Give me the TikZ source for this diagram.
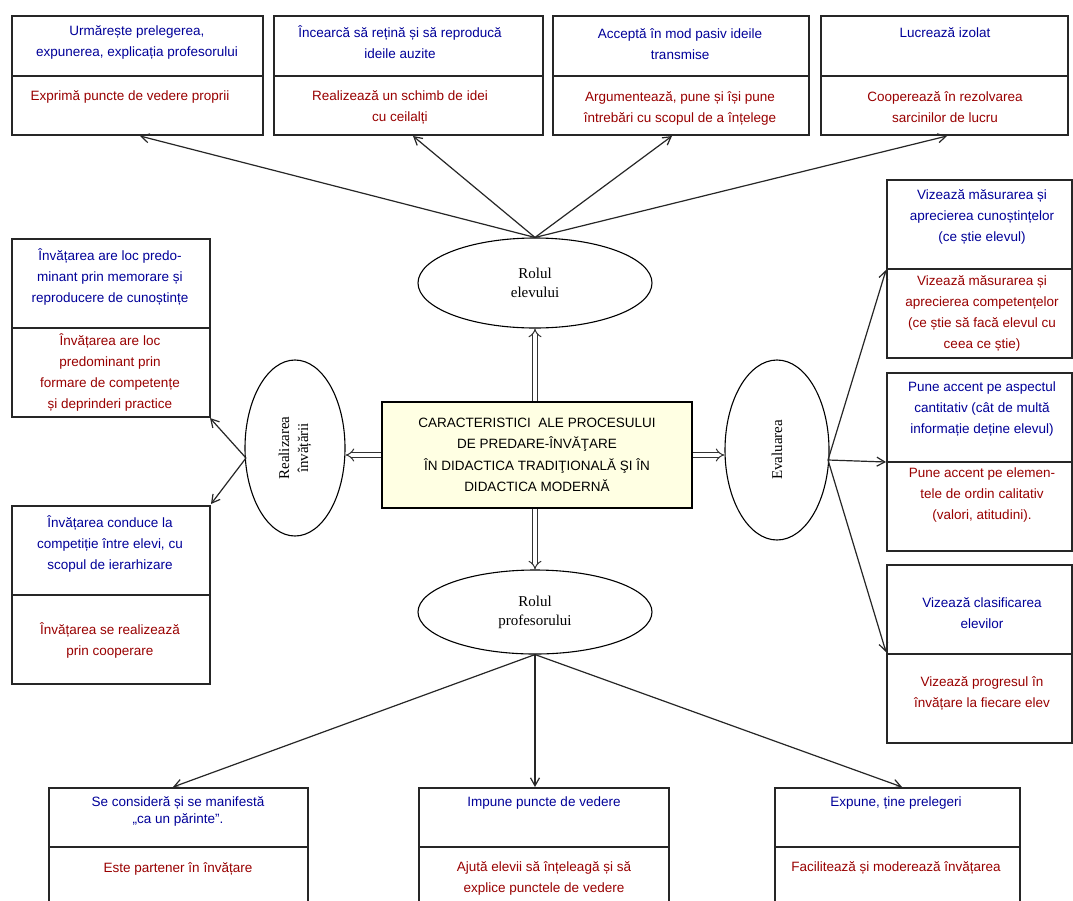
\documentclass[tikz,border=0pt]{standalone}
\usepackage{fontspec}
\setmainfont{Liberation Sans}
\newfontfamily\seriffont{Liberation Serif}
\usetikzlibrary{arrows.meta,shapes.geometric}
\definecolor{tblue}{HTML}{000099}
\definecolor{tred}{HTML}{990000}
\definecolor{cfill}{HTML}{FFFFE3}
\begin{document}
\begin{tikzpicture}[x=1pt,y=-1pt,
  box/.style={draw=black!85,line width=1.5pt},
  bt/.style={text=tblue,font=\fontsize{13.5}{21}\selectfont,align=center,inner sep=0pt},
  rt/.style={text=tred,font=\fontsize{13.5}{21}\selectfont,align=center,inner sep=0pt},
  ell/.style={draw,ellipse,line width=1.1pt,inner sep=0pt,align=center,font=\seriffont\fontsize{15}{19}\selectfont},
  dbl/.style={draw=black!80,double=white,double distance=3.5pt,line width=1pt,-{Implies[length=7pt]}},
  arr/.style={draw=black!85,line width=1.2pt,-{Straight Barb[length=8pt,width=9pt]}}]
\path[use as bounding box,clip] (0,0) rectangle (1073,900);
\fill[white] (0,0) rectangle (1073,900);

% ---- top boxes
\draw[box] (12,16) rectangle (263,135); \draw[box] (12,76) -- (263,76);
\draw[box] (274,16) rectangle (543,135); \draw[box] (274,76) -- (543,76);
\draw[box] (553,16) rectangle (809,135); \draw[box] (553,76) -- (809,76);
\draw[box] (821,16) rectangle (1068,135); \draw[box] (821,76) -- (1068,76);
\node[bt] (t1a) at (137,42) {Urmărește prelegerea,\\expunerea, explicația profesorului};
\node[rt] (t1b) at (130,97) {Exprimă puncte de vedere proprii};
\node[bt] (t2a) at (400,42) {Încearcă să rețină și să reproducă\\ideile auzite};
\node[rt] (t2b) at (400,107) {Realizează un schimb de idei\\cu ceilalți};
\node[bt] (t3a) at (680,44) {Acceptă în mod pasiv ideile\\transmise};
\node[rt] (t3b) at (680,108) {Argumentează, pune și își pune\\întrebări cu scopul de a înțelege};
\node[bt] (t4a) at (945,33) {Lucrează izolat};
\node[rt] (t4b) at (945,107) {Cooperează în rezolvarea\\sarcinilor de lucru};

% ---- left boxes
\draw[box] (12,239) rectangle (210,417); \draw[box] (12,328) -- (210,328);
\draw[box] (12,506) rectangle (210,684); \draw[box] (12,595) -- (210,595);
\node[bt] (l1a) at (110,277) {Învățarea are loc predo-\\minant prin memorare și\\reproducere de cunoștințe};
\node[rt] (l1b) at (110,373) {Învățarea are loc\\predominant prin\\formare de competențe\\și deprinderi practice};
\node[bt] (l2a) at (110,544) {Învățarea conduce la\\competiție între elevi, cu\\scopul de ierarhizare};
\node[rt] (l2b) at (110,640) {Învățarea se realizează\\prin cooperare};

% ---- right boxes
\draw[box] (887,180) rectangle (1072,358); \draw[box] (887,269) -- (1072,269);
\draw[box] (887,373) rectangle (1072,551); \draw[box] (887,462) -- (1072,462);
\draw[box] (887,565) rectangle (1072,743); \draw[box] (887,654) -- (1072,654);
\node[bt] (r1a) at (982,217) {Vizează măsurarea și\\aprecierea cunoștințelor\\(ce știe elevul)};
\node[rt] (r1b) at (982,313) {Vizează măsurarea și\\aprecierea competențelor\\(ce știe să facă elevul cu\\ceea ce știe)};
\node[bt] (r2a) at (982,409) {Pune accent pe aspectul\\cantitativ (cât de multă\\informație deține elevul)};
\node[rt] (r2b) at (982,495) {Pune accent pe elemen-\\tele de ordin calitativ\\(valori, atitudini).};
\node[bt] (r3a) at (982,613) {Vizează clasificarea\\elevilor};
\node[rt] (r3b) at (982,693) {Vizează progresul în\\învățare la fiecare elev};

% ---- bottom boxes
\draw[box] (49,788) rectangle (308,910); \draw[box] (49,847) -- (308,847);
\draw[box] (419,788) rectangle (669,910); \draw[box] (419,847) -- (669,847);
\draw[box] (775,788) rectangle (1020,910); \draw[box] (775,847) -- (1020,847);
\node[bt,font=\fontsize{13.5}{17}\selectfont] (b1a) at (178,811) {Se consideră și se manifestă\\„ca un părinte”.};
\node[rt] (b1b) at (178,869) {Este partener în învățare};
\node[bt] (b2a) at (544,803) {Impune puncte de vedere};
\node[rt] (b2b) at (544,878) {Ajută elevii să înțeleagă și să\\explice punctele de vedere};
\node[bt] (b3a) at (896,803) {Expune, ține prelegeri};
\node[rt] (b3b) at (896,868) {Facilitează și moderează învățarea};

% ---- centre
\node[draw,line width=2.8pt,fill=cfill,minimum width=310pt,minimum height=106pt,inner sep=0pt,
  align=center,font=\fontsize{13.5}{21.5}\selectfont] (ctr) at (537,455)
  {CARACTERISTICI\ \ ALE PROCESULUI\\DE PREDARE-ÎNVĂŢARE\\ÎN DIDACTICA TRADIŢIONALĂ ŞI ÎN\\DIDACTICA MODERNĂ};

% ---- ellipses
\node[ell,minimum width=234pt,minimum height=90pt] (elev) at (535,283) {Rolul\\elevului};
\node[ell,minimum width=234pt,minimum height=84pt] (prof) at (535,612) {Rolul\\profesorului};
\node[ell,rotate=90,minimum width=176pt,minimum height=100pt] (real) at (295,448) {Realizarea\\învățării};
\node[ell,rotate=90,minimum width=180pt,minimum height=104pt] (eval) at (777,450) {Evaluarea};

% ---- double arrows
\draw[dbl] (ctr.north -| elev.south) -- (elev.south);
\draw[dbl] (ctr.south -| prof.north) -- (prof.north);
\draw[dbl] (ctr.west) -- (ctr.west -| real.south);
\draw[dbl] (ctr.east) -- (ctr.east -| eval.north);

% ---- arrow end points
\coordinate (e1) at (140,136);
\coordinate (e2) at (413,136);
\coordinate (e3) at (672,136);
\coordinate (e4) at (947,136);
\coordinate (rl1) at (210,418);
\coordinate (rl2) at (211,504);
\coordinate (ev1) at (886,270);
\coordinate (ev2) at (886,462);
\coordinate (ev3) at (886,652);
\coordinate (p1) at (173,787);
\coordinate (p2) at (535,787);
\coordinate (p3) at (902,787);
\coordinate (rs) at (246,458);
\coordinate (es) at (828,460);

\foreach \t in {e1,e2,e3,e4} \draw[arr] (elev.north) -- (\t);
\foreach \t in {rl1,rl2} \draw[arr] (rs) -- (\t);
\foreach \t in {ev1,ev2,ev3} \draw[arr] (es) -- (\t);
\foreach \t in {p1,p2,p3} \draw[arr] (prof.south) -- (\t);
\end{tikzpicture}
\end{document}
